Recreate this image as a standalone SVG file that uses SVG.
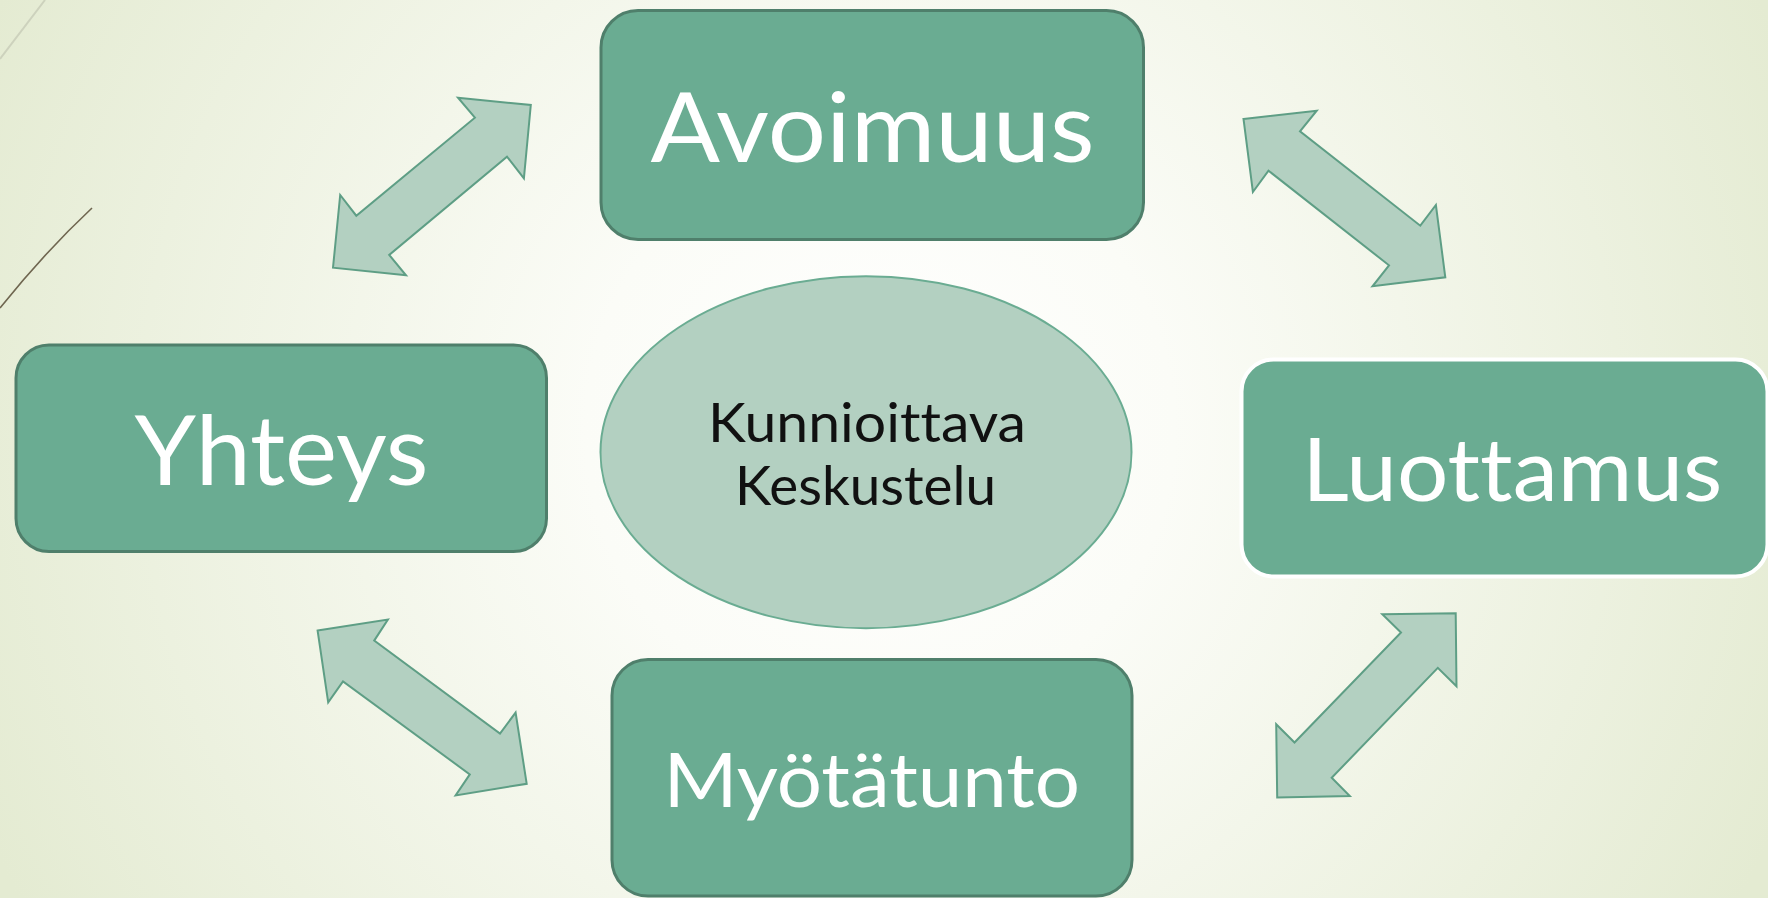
<svg xmlns="http://www.w3.org/2000/svg" width="1768" height="898" viewBox="0 0 1768 898">
  <defs>
    <radialGradient id="bg" gradientUnits="userSpaceOnUse" cx="880" cy="430" r="980">
      <stop offset="0" stop-color="#FFFFFF"/>
      <stop offset="0.3" stop-color="#FBFCF7"/>
      <stop offset="1" stop-color="#E4EBD2"/>
    </radialGradient>
    <style>
      .box { fill: #6AAC92; stroke: #4F7F6B; stroke-width: 3; }
      .boxw { fill: #6AAC92; stroke: #FFFFFF; stroke-width: 4; }
      .lbl { fill: #FFFFFF; font-family: Lato, "Liberation Sans", sans-serif; font-variant-ligatures: none; font-feature-settings: "liga" 0, "clig" 0, "dlig" 0; }
      .ctr { fill: #111111; font-family: Lato, "Liberation Sans", sans-serif; font-size: 55px; font-variant-ligatures: none; font-feature-settings: "liga" 0, "clig" 0, "dlig" 0; }
      .arr { fill: #B3D0C1; stroke: #5E9E85; stroke-width: 2; stroke-linejoin: miter; }
      .ell { fill: #B3D0C1; stroke: #6AAC92; stroke-width: 2; }
    </style>
  </defs>

  <rect x="0" y="0" width="1768" height="898" fill="url(#bg)"/>

  <!-- decorative lines at left edge -->
  <path d="M0,59 L45,0" fill="none" stroke="#CDD2BD" stroke-width="2"/>
  <path d="M0,308 Q45,252 92,208" fill="none" stroke="#6F6650" stroke-width="1.6"/>

  <g id="connectors">
    <polygon class="arr" points="458,97.7 530.8,105 523.9,178.3 507,156.7 389.2,255 406,275.3 333,267.7 340.2,195 356.3,215.7 474.9,117.7"/>
    <polygon class="arr" points="1243.5,119 1316.7,110.7 1300,131.3 1420.3,225.7 1435.9,205 1445.3,277.3 1372.5,286.3 1389,265.3 1268.5,170.7 1252.9,192"/>
    <polygon class="arr" points="317.6,630.6 387.9,619.5 374.2,640.6 500,733.5 515.6,712.6 526.7,783.8 455.6,795.4 469.8,774.4 343,681.4 328.2,702.4"/>
    <polygon class="arr" points="1382.3,614.3 1455.7,613.3 1456.5,686.3 1437.8,667.8 1331.7,777.8 1349.8,796 1277.2,797.5 1276.2,724.3 1294.5,742.5 1401,632.5"/>
  </g>

  <g id="center">
    <ellipse class="ell" cx="866" cy="452.2" rx="265.5" ry="176"/>
    <text class="ctr" x="708" y="441.7" textLength="318" lengthAdjust="spacingAndGlyphs">Kunnioittava</text>
    <text class="ctr" x="735" y="505" textLength="261" lengthAdjust="spacingAndGlyphs">Keskustelu</text>
  </g>

  <g id="avoimuus">
    <rect class="box" x="601" y="10.5" width="542.5" height="229" rx="37" ry="37"/>
    <text class="lbl" x="650.6" y="161.5" font-size="97" textLength="444" lengthAdjust="spacingAndGlyphs">Avoimuus</text>
  </g>

  <g id="yhteys">
    <rect class="box" x="16" y="345" width="530.5" height="206.5" rx="33" ry="33"/>
    <text class="lbl" x="134.5" y="485" font-size="96" textLength="294" lengthAdjust="spacingAndGlyphs">Yhteys</text>
  </g>

  <g id="luottamus">
    <rect class="boxw" x="1241.5" y="359.5" width="526" height="217" rx="32" ry="32"/>
    <text class="lbl" x="1302.3" y="501" font-size="86.5" textLength="420" lengthAdjust="spacingAndGlyphs">Luottamus</text>
  </g>

  <g id="myotatunto">
    <rect class="box" x="612" y="659.5" width="520" height="236.5" rx="36" ry="36"/>
    <text class="lbl" x="663.5" y="807.3" font-size="75" textLength="416.5" lengthAdjust="spacingAndGlyphs">Myötätunto</text>
  </g>
</svg>
